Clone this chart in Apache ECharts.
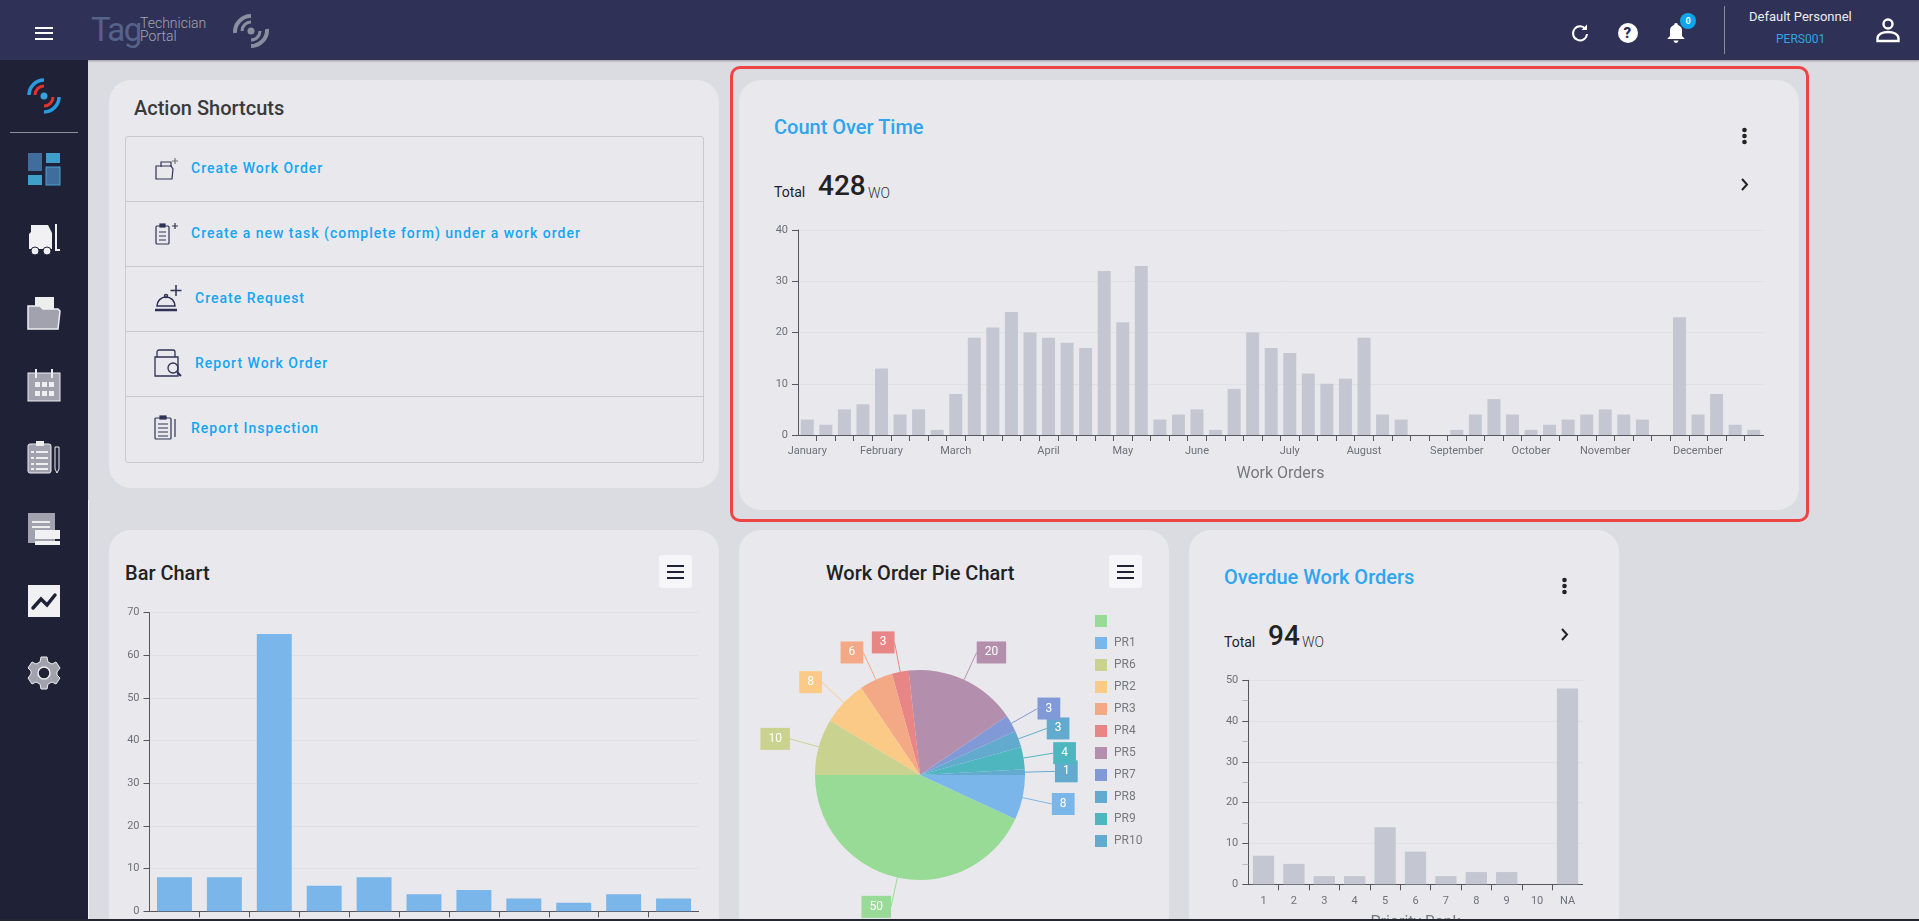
<!DOCTYPE html>
<html><head><meta charset="utf-8">
<script src="https://cdn.jsdelivr.net/npm/echarts@6/dist/echarts.min.js"></script>
<style>
html,body{margin:0;padding:0;width:1919px;height:921px;overflow:hidden;background:#dbdce1;font-family:Roboto,sans-serif}
.a{position:absolute}
.t{position:absolute;white-space:nowrap;line-height:1;transform:translateY(-50%)}
.card{position:absolute;background:#e9e9ed;border-radius:22px}
.link{position:absolute;white-space:nowrap;line-height:1;transform:translateY(-50%);color:#14a6f2;font-size:14px;font-weight:500;letter-spacing:1px}
.btn{position:absolute;width:33px;height:33px;background:#f6f6f8;border-radius:3px}
.btn i{position:absolute;left:8px;width:17px;height:2px;background:#1f2136}
.chart{position:absolute}
svg{position:absolute;overflow:visible}
</style></head><body>
<div class="a" style="left:0;top:0;width:1919px;height:60px;background:#2f3256;box-shadow:0 1px 2px #999"></div>
<div class="a" style="left:0;top:60px;width:88px;height:860px;background:#1f2136"></div>
<div class="a" style="left:88px;top:500px;width:1px;height:419px;background:#f4f4f6"></div>

<!-- header left -->
<div class="a" style="left:35px;top:27px;width:18px;height:2px;background:#fff"></div>
<div class="a" style="left:35px;top:32px;width:18px;height:2px;background:#fff"></div>
<div class="a" style="left:35px;top:38px;width:18px;height:2px;background:#fff"></div>
<div class="t" style="left:91px;top:29px;font-size:33px;font-weight:400;color:#56628a;letter-spacing:-1.500px">Tag</div>
<div class="t" style="left:140px;top:23px;font-size:14px;font-weight:300;color:#a0a4b6">Technician</div>
<div class="t" style="left:140px;top:36px;font-size:14px;font-weight:300;color:#a0a4b6">Portal</div>
<svg style="left:233px;top:13px" width="36" height="36" viewBox="0 0 36 36" fill="none" stroke="#8b8e9f">
<path d="M2 20A16 16 0 0 1 18 3" stroke-width="4"/><path d="M34 16A16 16 0 0 1 18 33" stroke-width="4"/>
<path d="M9 18A9 9 0 0 1 18 9M27 18A9 9 0 0 1 18 27" stroke-width="3"/><circle cx="18" cy="18" r="3.500" fill="#8b8e9f" stroke="none"/></svg>

<!-- header right -->
<svg style="left:1570px;top:23px" width="20" height="20" viewBox="0 0 20 20" fill="none" stroke="#fff" stroke-width="2"><path d="M15.500 6A7 7 0 1 0 17 11"/><path d="M11.500 7H17V1.500z" fill="#fff" stroke="none"/></svg>
<svg style="left:1618px;top:23px" width="20" height="20"><circle cx="10" cy="10" r="10" fill="#fff"/></svg>
<div class="t" style="left:1623.500px;top:33px;font-size:15px;font-weight:900;color:#2f3256">?</div>
<svg style="left:1667px;top:23px" width="18" height="20" viewBox="0 0 18 20" fill="#fff"><path d="M9 0a2 2 0 0 1 2 2a6 6 0 0 1 4 6v5l2.500 2.500V16H.5v-.5L3 13V8a6 6 0 0 1 4-6a2 2 0 0 1 2-2z"/><path d="M6.500 17.500h5a2.500 2.500 0 0 1-5 0z"/></svg>
<div class="a" style="left:1680px;top:13px;width:16px;height:16px;border-radius:50%;background:#0ea5e9;color:#fff;font-size:9px;font-weight:700;line-height:16px;text-align:center">0</div>
<div class="a" style="left:1724px;top:6px;width:1px;height:48px;background:#8a8ca0"></div>
<div class="t" style="left:1749px;top:16px;font-size:13px;color:#eceded">Default Personnel</div>
<div class="t" style="left:1776px;top:39px;font-size:12px;color:#2ea5e0">PERS001</div>
<svg style="left:1876px;top:18px" width="24" height="24" viewBox="0 0 24 24" fill="none" stroke="#fff" stroke-width="2.400"><circle cx="12" cy="6" r="4.500"/><path d="M1.500 23v-2.500C1.500 16 7 14 12 14s10.500 2 10.500 6.500V23z"/></svg>

<!-- sidebar -->
<svg style="left:28px;top:80px" width="32" height="32" viewBox="0 0 32 32" fill="none">
<path d="M1 15A15 15 0 0 1 16 0" stroke="#2b9be0" stroke-width="3.500"/><path d="M31 17A15 15 0 0 1 16 32" stroke="#2b9be0" stroke-width="3.500"/>
<path d="M7 15A9 9 0 0 1 16 6M25 17A9 9 0 0 1 16 26" stroke="#e0322f" stroke-width="3"/><circle cx="16" cy="16" r="3.500" fill="#3aa0dd"/></svg>
<div class="a" style="left:10px;top:132px;width:68px;height:1px;background:#8f909c"></div>
<svg style="left:28px;top:153px" width="32" height="32"><rect width="14" height="18" fill="#3f6d9e"/><rect x="18" width="14" height="10" fill="#3f9fcb"/><rect y="22" width="14" height="10" fill="#3f9fcb"/><rect x="18" y="14" width="14" height="18" fill="#3f6d9e" stroke="#4aa3d0"/></svg>
<svg style="left:28px;top:224px" width="32" height="32" fill="#f1f1f4"><path d="M3 1h17l4 8v16H1V10l2-2z"/><rect x="27" y="0" width="2" height="27"/><rect x="27" y="25" width="5" height="2"/><circle cx="7" cy="27" r="4" stroke="#1f2136"/><circle cx="19" cy="27" r="4" stroke="#1f2136"/></svg>
<svg style="left:28px;top:297px" width="32" height="32"><rect x="7" y="0" width="19" height="14" fill="#eee"/><path d="M0 9h12l3 3h15l2 2-2 18H0z" fill="#a1a2ad" stroke="#f0f0f3" stroke-width="1.500"/></svg>
<svg style="left:28px;top:369px" width="32" height="32"><rect y="4" width="32" height="28" fill="#a1a2ad" stroke="#eee"/><rect x="7" width="2" height="9" fill="#eee"/><rect x="23" width="2" height="9" fill="#eee"/><g fill="#eee"><rect x="7" y="13" width="5" height="5"/><rect x="14" y="13" width="5" height="5"/><rect x="21" y="13" width="5" height="5"/><rect x="7" y="22" width="5" height="5"/><rect x="14" y="22" width="5" height="5"/><rect x="21" y="22" width="5" height="5"/></g></svg>
<svg style="left:28px;top:441px" width="32" height="32"><rect y="3" width="23" height="29" rx="2" fill="#a1a2ad" stroke="#eee"/><rect x="8" y="0" width="8" height="5" fill="#eee"/><g fill="#eee"><rect x="8" y="10" width="12" height="2"/><rect x="8" y="16" width="12" height="2"/><rect x="8" y="22" width="12" height="2"/><rect x="8" y="27" width="12" height="2"/><rect x="3" y="10" width="3" height="2"/><rect x="3" y="16" width="3" height="2"/><rect x="3" y="22" width="3" height="2"/><rect x="3" y="27" width="3" height="2"/></g><path d="M27 6h4v22l-2 4-2-4z" fill="#1f2136" stroke="#eee"/></svg>
<svg style="left:28px;top:513px" width="32" height="32"><path d="M0 0h27v30H0z" fill="#a1a2ad"/><g fill="#eee"><rect x="4" y="8" width="18" height="2"/><rect x="4" y="13" width="18" height="2"/></g><rect x="7" y="17" width="25" height="9" fill="#f1f1f4"/><rect x="7" y="28" width="25" height="4" fill="#f1f1f4"/></svg>
<svg style="left:28px;top:585px" width="32" height="32"><rect width="32" height="32" fill="#f1f1f4"/><path d="M5 23l8-9 6 6 8-10" stroke="#1f2136" stroke-width="3.500" fill="none" stroke-linecap="round"/></svg>
<svg style="left:28px;top:657px" width="32" height="32" viewBox="0 0 32 32"><path d="M13 0h6l1 5 4 2 4-2 4 6-3 4v3l3 3-4 6-4-2-4 2-1 5h-6l-1-5-4-2-4 2-4-6 3-4v-3L0 11l4-6 4 2 4-2z" fill="#a1a2ad" stroke="#eee"/><circle cx="16" cy="16" r="6" fill="#1f2136" stroke="#eee" stroke-width="1.500"/></svg>

<!-- action shortcuts -->
<div class="card" style="left:109px;top:80px;width:610px;height:408px"></div>
<div class="t" style="left:134px;top:108px;font-size:20px;font-weight:500;color:#3a3a3c">Action Shortcuts</div>
<div class="a" style="left:125px;top:136px;width:577px;height:325px;border:1px solid #c8c9d1;border-radius:3px"></div>
<div class="a" style="left:125px;top:201px;width:578px;height:1px;background:#c8c9d1"></div>
<div class="a" style="left:125px;top:266px;width:578px;height:1px;background:#c8c9d1"></div>
<div class="a" style="left:125px;top:331px;width:578px;height:1px;background:#c8c9d1"></div>
<div class="a" style="left:125px;top:396px;width:578px;height:1px;background:#c8c9d1"></div>
<div class="link" style="left:191px;top:168px">Create Work Order</div>
<div class="link" style="left:191px;top:233px">Create a new task (complete form) under a work order</div>
<div class="link" style="left:195px;top:298px">Create Request</div>
<div class="link" style="left:195px;top:363px">Report Work Order</div>
<div class="link" style="left:191px;top:428px">Report Inspection</div>
<svg style="left:155px;top:158px" width="24" height="22" fill="none" stroke="#2f3256" stroke-width="1.200"><path d="M6 9V4h10v5"/><path d="M1 8h15l2 3-1 10H1z"/><path d="M20 0v6M17 3h6" stroke="#777"/></svg>
<svg style="left:155px;top:223px" width="24" height="22" fill="none" stroke="#2f3256" stroke-width="1.200"><rect x="1" y="3" width="13" height="18" rx="1"/><rect x="5" y="1" width="5" height="3" fill="#2f3256"/><path d="M4 9h7M4 13h7M4 17h7M20 0v6M17 3h6"/></svg>
<svg style="left:154px;top:285px" width="28" height="28" fill="none" stroke="#2f3256" stroke-width="1.500"><path d="M3 21a9 9 0 0 1 18 0z"/><path d="M1 25h22" stroke-width="2.500"/><circle cx="12" cy="11" r="1.500"/><path d="M22 0v11M16.500 5.500h11"/></svg>
<svg style="left:154px;top:349px" width="28" height="28" fill="none" stroke="#2f3256" stroke-width="1.300"><rect x="3" y="1" width="18" height="12" rx="2"/><path d="M1 8h23v19H1z" fill="#e9e9ed"/><circle cx="19" cy="19" r="5"/><path d="M23 23l4 4" stroke-width="2"/></svg>
<svg style="left:154px;top:416px" width="24" height="24" fill="none" stroke="#2f3256" stroke-width="1.200"><rect x="1" y="2" width="16" height="21" rx="1"/><rect x="6" y="0" width="6" height="3" fill="#2f3256"/><path d="M4 8h10M4 12h10M4 16h10M4 20h10M21 3v18"/></svg>

<!-- main card -->
<div class="card" style="left:739px;top:80px;width:1060px;height:430px"></div>
<div class="a" style="left:730px;top:66px;width:1073px;height:450px;border:3.500px solid #ef4444;border-radius:10px"></div>
<div class="t" style="left:774px;top:127px;font-size:20px;font-weight:500;color:#2ea5ee">Count Over Time</div>
<svg style="left:1740px;top:127px" width="9" height="18" fill="#222"><circle cx="4.500" cy="3" r="2.300"/><circle cx="4.500" cy="9" r="2.300"/><circle cx="4.500" cy="15" r="2.300"/></svg>
<svg style="left:1740px;top:178px" width="9" height="13" fill="none" stroke="#222" stroke-width="2"><path d="M2 1l5 5.500-5 5.500"/></svg>
<div class="t" style="left:774px;top:192px;font-size:14px;color:#222">Total</div>
<div class="t" style="left:818px;top:186px;font-size:28px;font-weight:500;color:#222">428</div>
<div class="t" style="left:868px;top:193px;font-size:14px;font-weight:300;color:#333">WO</div>
<div class="chart" id="c1" style="left:740px;top:200px;width:1059px;height:310px"></div>

<!-- bar card -->
<div class="card" style="left:109px;top:530px;width:610px;height:420px"></div>
<div class="t" style="left:125px;top:573px;font-size:20px;font-weight:500;color:#222">Bar Chart</div>
<div class="btn" style="left:659px;top:555px"><i style="top:10px"></i><i style="top:16px"></i><i style="top:22px"></i></div>
<div class="chart" id="c2" style="left:109px;top:590px;width:610px;height:360px"></div>

<!-- pie card -->
<div class="card" style="left:739px;top:530px;width:430px;height:420px"></div>
<div class="t" style="left:826px;top:573px;font-size:20px;font-weight:500;color:#222">Work Order Pie Chart</div>
<div class="btn" style="left:1109px;top:555px"><i style="top:10px"></i><i style="top:16px"></i><i style="top:22px"></i></div>
<div class="chart" id="c3" style="left:739px;top:590px;width:430px;height:360px"></div>

<!-- overdue card -->
<div class="card" style="left:1189px;top:530px;width:430px;height:420px"></div>
<div class="t" style="left:1224px;top:577px;font-size:20px;font-weight:500;color:#2ea5ee">Overdue Work Orders</div>
<svg style="left:1559.500px;top:577px" width="9" height="18" fill="#222"><circle cx="4.500" cy="3" r="2.300"/><circle cx="4.500" cy="9" r="2.300"/><circle cx="4.500" cy="15" r="2.300"/></svg>
<svg style="left:1560px;top:628px" width="9" height="13" fill="none" stroke="#222" stroke-width="2"><path d="M2 1l5 5.500-5 5.500"/></svg>
<div class="t" style="left:1224px;top:642px;font-size:14px;color:#222">Total</div>
<div class="t" style="left:1268px;top:636px;font-size:28px;font-weight:500;color:#222">94</div>
<div class="t" style="left:1302px;top:642px;font-size:14px;font-weight:300;color:#333">WO</div>
<div class="chart" id="c4" style="left:1189px;top:660px;width:430px;height:290px"></div>

<div class="a" style="left:0;top:919px;width:1919px;height:2px;background:#23252f"></div>

<script>
var weekLabels = ['January','','','','February','','','','March','','','','','April','','','','May','','','','June','','','','','July','','','','August','','','','','September','','','','October','','','','November','','','','','December','','',''];
var weekCounts = [3,2,5,6,13,4,5,1,8,19,21,24,20,19,18,17,32,22,33,3,4,5,1,9,20,17,16,12,10,11,19,4,3,0,0,1,4,7,4,1,2,3,4,5,4,3,0,23,4,8,2,1];
var barCategories = ['PR1','PR2','PR3','PR4','PR5','PR6','PR7','PR8','PR9','PR10','NA'];
var barValues = [8,8,65,6,8,4,5,3,2,4,3];
var pieNames = [' ','PR1','PR10','PR9','PR8','PR7','PR5','PR4','PR3','PR2','PR6'];
var pieValues = [50,8,1,4,3,3,20,3,6,8,10];
var pieColors = ['#98db96','#7ab6ea','#63aacf','#4db6bf','#63aacf','#8299d8','#b48fad','#e88585','#f3a985','#fbca87','#cad28f'];
var legendOrder = [' ','PR1','PR6','PR2','PR3','PR4','PR5','PR7','PR8','PR9','PR10'];
var rankLabels = ['1','2','3','4','5','6','7','8','9','10','NA'];
var rankCounts = [7,5,2,2,14,8,2,3,3,0,48];

var axisDark = '#55565f', gridLight = '#dfdfe4', labelGray = '#6f7079', barGray = '#c4c7d2';

function barOption(cfg){
  return {
    animation:false,
    textStyle:{fontFamily:'Roboto'},
    grid:cfg.grid,
    xAxis:{type:'category',data:cfg.cats,name:cfg.name||'',nameLocation:'middle',nameGap:cfg.nameGap||30,
      nameTextStyle:{fontSize:16,color:'#77787f',fontFamily:'Roboto'},
      axisLine:{lineStyle:{color:axisDark}},axisTick:{show:true,length:6,lineStyle:{color:axisDark}},
      axisLabel:{show:cfg.labels!==false,interval:0,fontSize:11,color:labelGray,margin:cfg.margin||11,fontFamily:'Roboto',hideOverlap:false}},
    yAxis:{type:'value',min:0,max:cfg.max,interval:10,
      axisLine:{show:true,lineStyle:{color:axisDark}},axisTick:{show:true,length:6,lineStyle:{color:axisDark}},
      minorTick:cfg.minor?{show:true,splitNumber:2,length:6,lineStyle:{color:'#b9bac2'}}:{show:false},
      splitLine:{lineStyle:{color:gridLight}},
      axisLabel:{fontSize:11,color:labelGray,margin:10,fontFamily:'Roboto'}},
    series:[{type:'bar',data:cfg.values,barCategoryGap:'30%',itemStyle:{color:cfg.color},silent:true}]
  };
}
function cover(parent,x,y){
  var d=document.createElement('div');
  d.style.cssText='position:absolute;width:3px;height:7px;background:#e9e9ed;z-index:5;left:'+(x-1.5)+'px;top:'+(y+1)+'px';
  document.getElementById(parent).appendChild(d);
}

echarts.init(document.getElementById('c1')).setOption(barOption({
  grid:{left:58,top:30,width:965,height:205},cats:weekLabels,values:weekCounts,max:40,color:barGray,name:'Work Orders',nameGap:31}));
cover('c1',58,235);cover('c1',1023,235);

echarts.init(document.getElementById('c2')).setOption(barOption({
  grid:{left:40.500,top:22.700,width:549,height:298.600},cats:barCategories,values:barValues,max:70,color:'#7ab6ea',labels:false}));
cover('c2',40.5,321.3);cover('c2',589.5,321.3);

echarts.init(document.getElementById('c4')).setOption(barOption({
  grid:{left:59.300,top:20.300,width:334.400,height:204},cats:rankLabels,values:rankCounts,max:50,color:barGray,minor:true,name:'Priority Rank',nameGap:31}));
cover('c4',59.3,224.3);cover('c4',393.7,224.3);

echarts.init(document.getElementById('c3')).setOption({
  animation:false,
  textStyle:{fontFamily:'Roboto'},
  color:pieColors,
  legend:{orient:'vertical',left:351,top:20,itemWidth:12,itemHeight:12,itemGap:10,icon:'rect',data:legendOrder,
    textStyle:{fontSize:12,color:'#77787f',fontFamily:'Roboto',padding:[0,0,0,2]},selectedMode:false},
  series:[{type:'pie',center:[181,185],radius:[0,105],startAngle:180,clockwise:false,avoidLabelOverlap:false,
    data:pieNames.map(function(n,i){return {name:n,value:pieValues[i],
      label:{backgroundColor:pieColors[i]}};}),
    label:{formatter:'{c}',color:'#fff',fontSize:12,padding:[5,8],fontFamily:'Roboto',distanceToLabelLine:0},
    labelLine:{length:30,length2:0,lineStyle:{width:1}},
    labelLayout:{hideOverlap:false},
    silent:true}]
});
</script>
</body></html>
